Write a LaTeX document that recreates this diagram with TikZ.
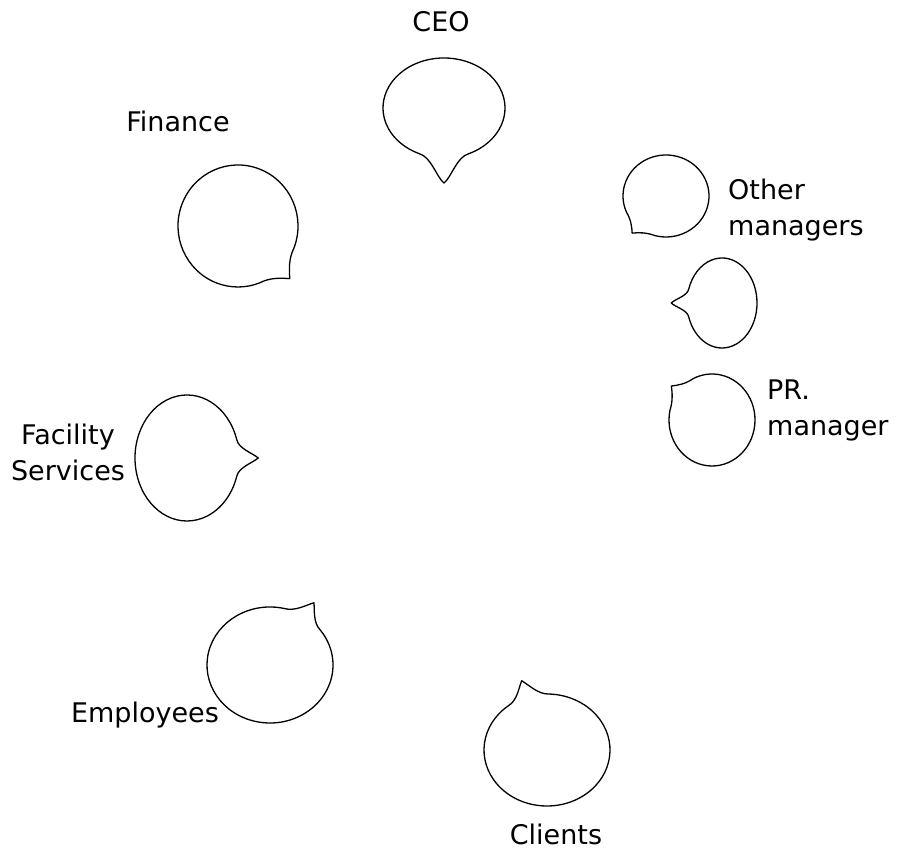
\documentclass[tikz,border=0pt]{standalone}
\usepackage{fontspec}
\setmainfont{DejaVu Sans}
\tikzset{
    bubble/.style={draw=black, line width=1.3pt, line join=round},
    label text/.style={inner sep=0pt, font=\fontsize{27}{36}\selectfont}
}
\newcommand{\speechbubble}[7]{%
    \coordinate (#1) at #2;
    \draw[bubble] ([shift={(#5+#6:#3 and #4)}]#1)
        arc[start angle=#5+#6, end angle=#5-#6+360, x radius=#3, y radius=#4]
        .. controls ([shift={(#5-#6/2:#3 and #4)}]#1) and ([shift={(#5-#6/5:#7*#3-0.1*#3 and #7*#4-0.1*#4)}]#1)
        .. ([shift={(#5:#7*#3 and #7*#4)}]#1)
        .. controls ([shift={(#5+#6/5:#7*#3-0.1*#3 and #7*#4-0.1*#4)}]#1) and ([shift={(#5+#6/2:#3 and #4)}]#1)
        .. cycle;
}
\begin{document}
\begin{tikzpicture}[x=1pt, y=1pt]
    \fill[white] (0,0) rectangle (899,850);
    \useasboundingbox (0,0) rectangle (899,850);
    \speechbubble{ceo}{(444,742)}{61}{50}{-90}{24}{1.5}
    \speechbubble{finance}{(238,624)}{60}{61}{-45}{24}{1.22}
    \speechbubble{facility}{(187,392)}{52}{63}{0}{17}{1.37}
    \speechbubble{others}{(666,654)}{43}{41}{-131}{26}{1.2}
    \speechbubble{middle}{(722,547)}{35}{45}{180}{18}{1.45}
    \speechbubble{pr}{(712,430)}{43}{46}{142}{26}{1.2}
    \speechbubble{employees}{(270,185)}{63}{58}{57}{20}{1.28}
    \speechbubble{clients}{(547,100)}{63}{56}{108}{20}{1.3}
    \node[label text, anchor=base] (ceo label) at (441,818) {CEO};
    \node[label text, anchor=base] (finance label) at (178,718) {Finance};
    \node[label text, anchor=west, align=left] (others label) at (728,640) {Other\\managers};
    \node[label text, anchor=west, align=left] (pr label) at (767,440) {PR.\\manager};
    \node[label text, align=center] (facility label) at (68,398) {Facility\\Services};
    \node[label text, anchor=base] (employees label) at (145,127) {Employees};
    \node[label text, anchor=base] (clients label) at (556,5) {Clients};
\end{tikzpicture}
\end{document}
